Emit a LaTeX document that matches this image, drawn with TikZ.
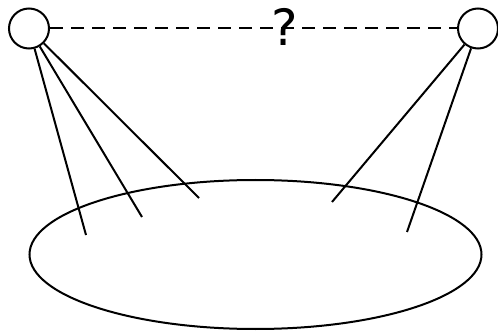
\documentclass[tikz,border=0pt]{standalone}
\usepackage{fontspec}
\newfontfamily\qfont{DejaVu Sans}
\usetikzlibrary{shapes.geometric}
\begin{document}
\begin{tikzpicture}[
    x=1pt, y=-1pt,
    line width=2pt,
    agent/.style={circle, draw, inner sep=0pt, minimum size=40pt},
    region/.style={ellipse, draw, inner sep=0pt, minimum width=452pt, minimum height=149pt},
    relation/.style={dashed, dash pattern=on 13pt off 8pt},
    query/.style={inner sep=0pt, font=\qfont\fontsize{50}{50}\selectfont}
]
    \useasboundingbox (0,0) rectangle (498,331);

    % Agents
    \node (left) [agent] at (29,28.5) {};
    \node (right) [agent] at (478,28.5) {};

    % Region
    \node (region) [region] at (255.5,254.5) {};

    % Contact points inside the region
    \coordinate (l1) at (86,235);
    \coordinate (l2) at (142,217);
    \coordinate (l3) at (199,198);
    \coordinate (r1) at (332,202);
    \coordinate (r2) at (407,232);

    % Unknown relation
    \draw [relation] (left) -- (right);
    \node (unknown) [query] at (285,26.5) {?};

    % Links
    \draw (left) -- (l1);
    \draw (left) -- (l2);
    \draw (left) -- (l3);
    \draw (right) -- (r1);
    \draw (right) -- (r2);

\end{tikzpicture}
\end{document}
